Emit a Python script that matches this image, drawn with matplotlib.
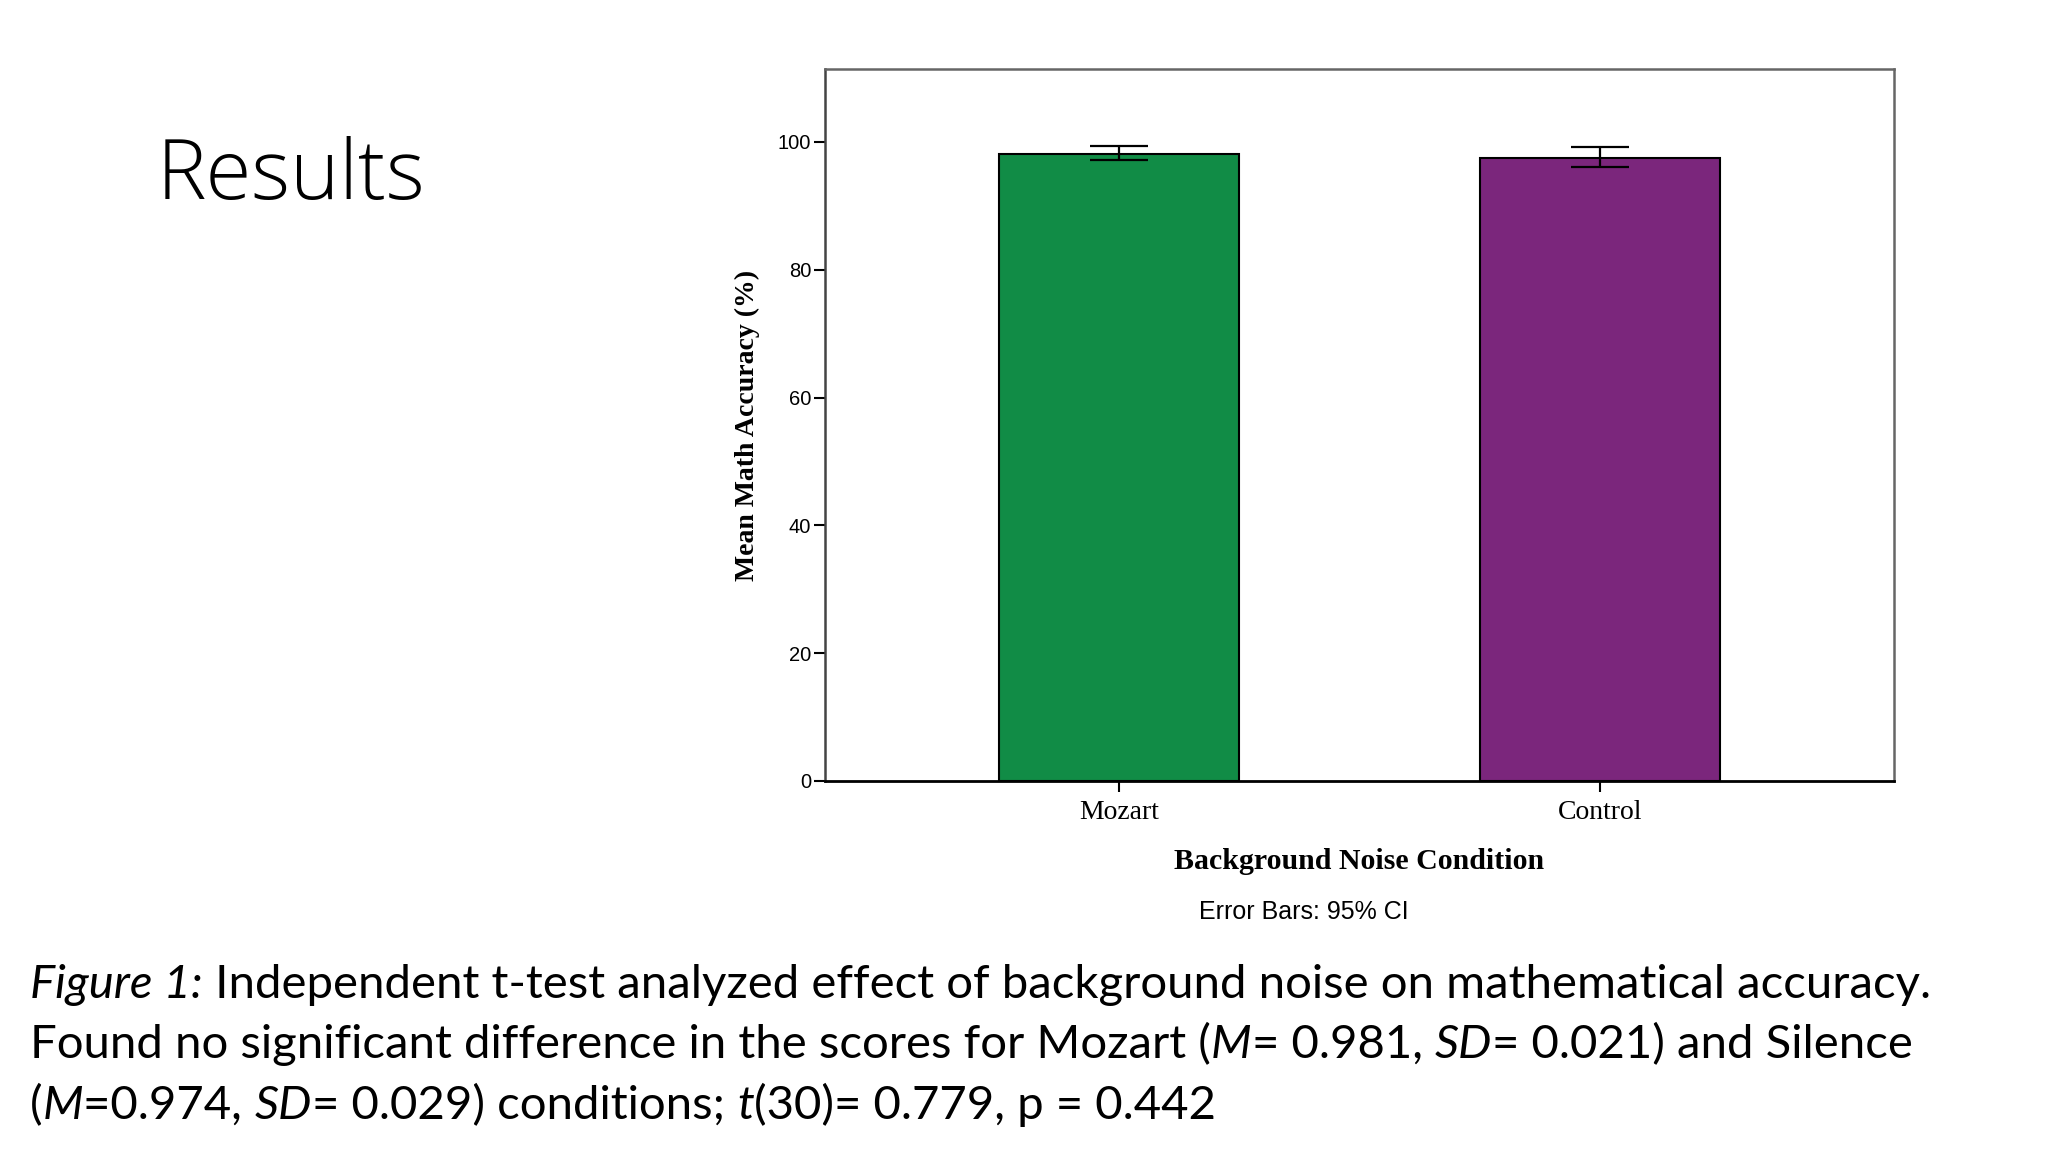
import matplotlib
matplotlib.use("Agg")
import matplotlib.pyplot as plt
import numpy as np

# ---- data ----
categories = ["Mozart", "Control"]
means = [98.1, 97.4]
ci_low = [97.1, 96.1]
ci_high = [99.4, 99.2]
bar_colors = ["#118C46", "#7B267C"]
y_ticks = [0, 20, 40, 60, 80, 100]

title_text = "Results"
caption_lines = [
    [("Figure 1:", True), (" Independent t-test analyzed effect of background noise on mathematical accuracy.", False)],
    [("Found no significant difference in the scores for Mozart (", False), ("M", True), ("= 0.981, ", False),
     ("SD", True), ("= 0.021) and Silence", False)],
    [("(", False), ("M", True), ("=0.974, ", False), ("SD", True), ("= 0.029) conditions; ", False),
     ("t", True), ("(30)= 0.779, p = 0.442", False)],
]

W, H = 2048, 1152
fig = plt.figure(figsize=(W / 100, H / 100), dpi=100)
fig.patch.set_facecolor("white")

ax = fig.add_axes([825 / W, 1 - 781 / H, (1894 - 825) / W, (781 - 69) / H])
x = np.arange(len(categories))
m = np.array(means)
lo = m - np.array(ci_low)
hi = np.array(ci_high) - m
ax.bar(x, m, width=0.5, color=bar_colors, edgecolor="black", linewidth=1.5, zorder=2)
ax.errorbar(x, m, yerr=[lo, hi], fmt="none", ecolor="black", elinewidth=1.6,
            capsize=21, capthick=1.6, zorder=3)
ax.set_xlim(-0.611, 1.611)
ax.set_ylim(0, 111.4)
ax.set_yticks(y_ticks)
ax.set_yticklabels([str(v) for v in y_ticks], fontfamily="Liberation Sans", fontsize=14.5)
ax.set_xticks(x)
ax.set_xticklabels(categories, fontfamily="Liberation Serif", fontsize=20)
ax.tick_params(axis="y", direction="out", length=8, width=1.5, pad=2)
ax.tick_params(axis="x", direction="out", length=8, width=1.5, pad=6)
for s in ["top", "right"]:
    ax.spines[s].set_color("#666666")
    ax.spines[s].set_linewidth(1.8)
ax.spines["left"].set_color("#444444")
ax.spines["left"].set_linewidth(1.8)
ax.spines["bottom"].set_color("black")
ax.spines["bottom"].set_linewidth(2)

ax.set_xlabel("Background Noise Condition", fontfamily="Liberation Serif", fontweight="bold",
              fontsize=21.5, labelpad=16)
ax.set_ylabel("Mean Math Accuracy (%)", fontfamily="Liberation Serif", fontweight="bold",
              fontsize=20, labelpad=13)

fig.text(1304 / W, 1 - 912 / H, "Error Bars: 95% CI", fontfamily="Liberation Sans",
         fontsize=18, ha="center", va="center")

fig.text(157 / W, 1 - 199 / H, title_text, fontfamily="Open Sans", fontweight=300,
         fontsize=60, ha="left", va="baseline")

# ---- caption with mixed italics ----
renderer = fig.canvas.get_renderer()
cap_size = 34
def props(it):
    return dict(fontfamily="Lato", fontsize=cap_size, fontstyle="italic" if it else "normal")

def advance(s, it):
    t1 = fig.text(0, 0, s + "x", **props(it))
    t2 = fig.text(0, 0, "x", **props(it))
    w = t1.get_window_extent(renderer).width - t2.get_window_extent(renderer).width
    t1.remove(); t2.remove()
    return w

baselines = [998, 1058, 1119]
for line, yb in zip(caption_lines, baselines):
    xp = 30.0
    for s, it in line:
        fig.text(xp / W, 1 - yb / H, s, ha="left", va="baseline", **props(it))
        xp += advance(s, it)

fig.savefig("out.png", dpi=100, facecolor="white")
